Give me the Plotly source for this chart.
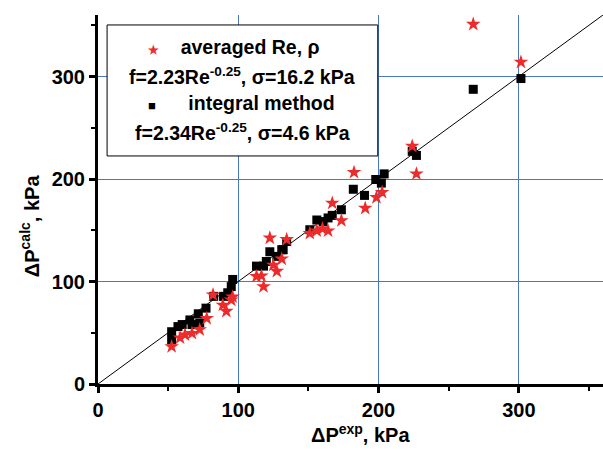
import plotly.graph_objects as go

# integral method (black squares)
int_x = [52.5, 52.5, 57, 60, 65.5, 67, 71.5, 72.5, 77, 82.5, 89.5, 92.5, 95, 96,
         113, 118, 120, 122.5, 127.5, 131, 132, 134.5, 151, 156, 160.5, 164, 167,
         173.5, 182, 190, 198, 202, 204, 224, 227, 267.5, 301.5]
int_y = [43, 51, 56, 58, 62.5, 58, 68.5, 59.5, 74, 85.5, 85.5, 89, 95, 102,
         115, 115, 119.5, 129, 124.5, 131, 131, 139, 150.5, 160, 158.5, 162, 164.5,
         170, 190, 184, 199.5, 196, 205, 227, 223, 287.5, 298]

# averaged Re, rho (red stars)
avg_x = [52.5, 58.5, 62, 67, 72.5, 77.5, 82, 89, 91.5, 95, 96, 113, 116.5, 118,
         122.5, 125, 127.5, 131, 134.5, 151, 156, 160, 164, 167, 173.5, 182.5,
         190.5, 198.5, 202.5, 224, 227, 267.5, 301.5]
avg_y = [36.5, 45, 48, 49.5, 53, 64, 87, 77, 71, 82, 85, 105, 105.5, 95,
         142.5, 116, 110, 122, 141, 147, 149.5, 151.5, 149.5, 176.5, 159.5, 206.5,
         171.5, 182, 187, 232, 205, 351, 314]

# y = x reference line
line_x = [0, 360]
line_y = [0, 360]

tick_vals = [0, 100, 200, 300]
tick_text = ["0", "100", "200", "300"]

FONT = "Liberation Sans, Arial, sans-serif"
RED = "#ee2b2b"
GRID = "#4a78c0"

fig = go.Figure()
fig.add_trace(go.Scatter(x=line_x, y=line_y, mode="lines",
                         line=dict(color="black", width=1), showlegend=False,
                         hoverinfo="skip"))
fig.add_trace(go.Scatter(x=int_x, y=int_y, mode="markers",
                         marker=dict(symbol="square", size=9, color="black"),
                         showlegend=False))
fig.add_trace(go.Scatter(x=avg_x, y=avg_y, mode="markers",
                         marker=dict(symbol="star", size=11, color=RED,
                                     line=dict(width=0)),
                         showlegend=False))

axis_common = dict(
    range=[0, 360], tickvals=tick_vals, ticktext=tick_text,
    showline=True, linecolor="black", linewidth=3, mirror=False,
    ticks="outside", ticklen=6, tickwidth=2.5, tickcolor="black",
    showgrid=True, gridcolor=GRID, gridwidth=1, zeroline=False,
    tickfont=dict(family=FONT, size=20, color="black", weight="bold"),
    minor=dict(dtick=50, tick0=0, ticks="outside", ticklen=4, tickwidth=2,
               tickcolor="black", showgrid=False),
)

fig.update_layout(
    width=603, height=450,
    margin=dict(l=98, r=0, t=15, b=66),
    paper_bgcolor="white", plot_bgcolor="white",
    xaxis=dict(**axis_common),
    yaxis=dict(**axis_common),
    showlegend=False,
)

# legend box
fig.add_shape(type="rect", xref="paper", yref="paper",
              x0=0.018, x1=0.554, y0=0.618, y1=0.973,
              line=dict(color="black", width=1), fillcolor="white", layer="above")

NB = "\u00a0"
leg_font = dict(family=FONT, size=19.5, color="black", weight="bold")
lines = [
    (0.270, 0.913, "<span style='color:%s;font-size:12px'>★</span>%saveraged Re, ρ" % (RED, NB * 4)),
    (0.286, 0.835, "f=2.23Re<sup>-0.25</sup>, σ=16.2 kPa"),
    (0.284, 0.762, "<span style='font-size:13px'>■</span>%sintegral method" % (NB * 6)),
    (0.286, 0.683, "f=2.34Re<sup>-0.25</sup>, σ=4.6 kPa"),
]
for xx, yy, txt in lines:
    fig.add_annotation(xref="paper", yref="paper", x=xx, y=yy, text=txt,
                       showarrow=False, xanchor="center", yanchor="middle",
                       font=leg_font)

# axis titles
fig.add_annotation(xref="paper", yref="paper", x=0.52, y=-0.135,
                   text="ΔP<sup>exp</sup>, kPa", showarrow=False,
                   xanchor="center", yanchor="middle",
                   font=dict(family=FONT, size=20, color="black", weight="bold"))
fig.add_annotation(xref="paper", yref="paper", x=-0.135, y=0.43,
                   text="ΔP<sup>calc</sup>, kPa", showarrow=False, textangle=-90,
                   xanchor="center", yanchor="middle",
                   font=dict(family=FONT, size=20, color="black", weight="bold"))

fig.write_html("out.html")
